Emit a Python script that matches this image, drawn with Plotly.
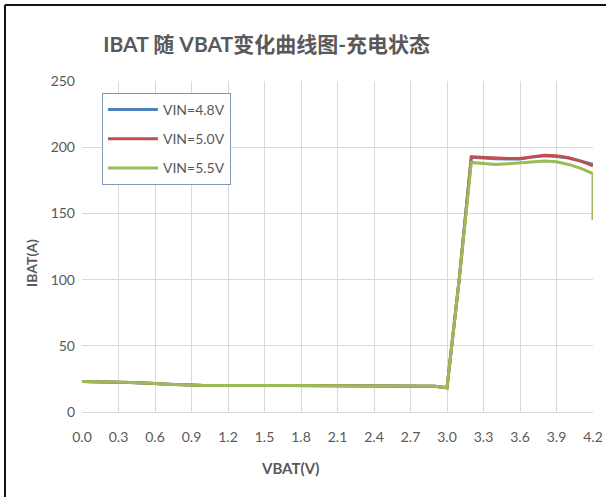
import plotly.graph_objects as go

vbat = [0.0, 0.1, 0.2, 0.3, 0.4, 0.5, 0.6, 0.7, 0.8, 0.9, 1.0, 1.1, 1.2, 1.3, 1.4,
        1.5, 1.6, 1.7, 1.8, 1.9, 2.0, 2.1, 2.2, 2.3, 2.4, 2.5, 2.6, 2.7, 2.8, 2.9,
        3.0, 3.1, 3.2, 3.3, 3.4, 3.5, 3.6, 3.7, 3.8, 3.9, 4.0, 4.1, 4.2]

low_part = [23, 23, 22.8, 22.5, 22.2, 22, 21.5, 21, 20.5, 20.3, 20.1, 20, 20, 20, 20,
            20, 20, 20, 20, 20, 20, 20, 20, 20, 20, 20, 20, 20, 20, 19.5,
            18.3, 100]

ibat_48 = low_part + [192.5, 191.8, 191.2, 191, 191, 192.5, 193.5, 193, 191.8, 189.5, 187]
ibat_50 = low_part + [192.8, 192.2, 191.6, 191.5, 191.5, 193, 194, 193.5, 192, 189.5, 186]
vbat_55 = vbat + [4.2]
ibat_55 = low_part + [188.5, 187.5, 187, 187.5, 188, 189, 189.5, 189, 187, 184, 180, 145]

series_names = ["VIN=4.8V", "VIN=5.0V", "VIN=5.5V"]
series_colors = ["#4F81BD", "#C0504D", "#9BBB59"]

x_ticks = [0.0, 0.3, 0.6, 0.9, 1.2, 1.5, 1.8, 2.1, 2.4, 2.7, 3.0, 3.3, 3.6, 3.9, 4.2]
x_ticktext = ["0.0", "0.3", "0.6", "0.9", "1.2", "1.5", "1.8", "2.1", "2.4", "2.7",
              "3.0", "3.3", "3.6", "3.9", "4.2"]
y_ticks = [0, 50, 100, 150, 200, 250]

title_text = "IBAT 随 VBAT变化曲线图-充电状态"
x_title = "VBAT(V)"
y_title = "IBAT(A)"

FONT = "Lato, Noto Sans CJK SC, sans-serif"
TXT = "#595959"

fig = go.Figure()
xs = [vbat, vbat, vbat_55]
ys = [ibat_48, ibat_50, ibat_55]
for i in range(3):
    fig.add_trace(go.Scatter(
        x=xs[i], y=ys[i], mode="lines", name=series_names[i],
        legendgroup=series_names[i],
        line=dict(color=series_colors[i], width=3),
    ))

fig.update_layout(
    width=606, height=497,
    margin=dict(l=82, r=13, t=81, b=85, autoexpand=False),
    paper_bgcolor="white", plot_bgcolor="white",
    font=dict(family=FONT, color=TXT, size=14),
    title=dict(text="<b>" + title_text + "</b>", x=0.44, xanchor="center", y=0.91, yanchor="middle",
               font=dict(family=FONT, size=21, color=TXT)),
    showlegend=True,
    legend=dict(x=0.039, y=0.964, xanchor="left", yanchor="top",
                bgcolor="white", bordercolor="#8497B0", borderwidth=1,
                traceorder="grouped", tracegroupgap=8, itemwidth=50,
                font=dict(size=14, color=TXT, family=FONT)),
    xaxis=dict(range=[0, 4.2], tickvals=x_ticks, ticktext=x_ticktext,
               showgrid=True, gridcolor="#D9D9D9", gridwidth=1,
               showline=True, linecolor="#D9D9D9", zeroline=False, automargin=False,
               ticks="", ticklabelstandoff=12, tickfont=dict(size=14, color=TXT)),
    yaxis=dict(range=[0, 250], tickvals=y_ticks,
               showgrid=True, gridcolor="#D9D9D9", gridwidth=1,
               showline=False, zeroline=False, ticks="", ticklabelstandoff=6,
               automargin=False, tickfont=dict(size=14, color=TXT)),
    annotations=[
        dict(text="<b>" + y_title + "</b>", xref="paper", yref="paper",
             x=-0.1, y=0.45, xanchor="center", yanchor="middle",
             textangle=-90, showarrow=False, font=dict(size=14, color=TXT, family=FONT)),
        dict(text="<b>" + x_title + "</b>", xref="paper", yref="paper",
             x=0.407, y=-0.17, xanchor="center", yanchor="middle",
             showarrow=False, font=dict(size=15, color=TXT, family=FONT)),
    ],
    shapes=[
        dict(type="line", xref="paper", yref="paper",
             x0=-0.1507, x1=1.03, y0=1.2296, y1=1.2296,
             line=dict(color="#111111", width=2)),
        dict(type="line", xref="paper", yref="paper",
             x0=-0.1507, x1=-0.1507, y0=1.2296, y1=-0.26,
             line=dict(color="#111111", width=2)),
    ],
)

fig.write_html("out.html", config={"displayModeBar": False},
               post_script="document.body.style.margin='0px';")
